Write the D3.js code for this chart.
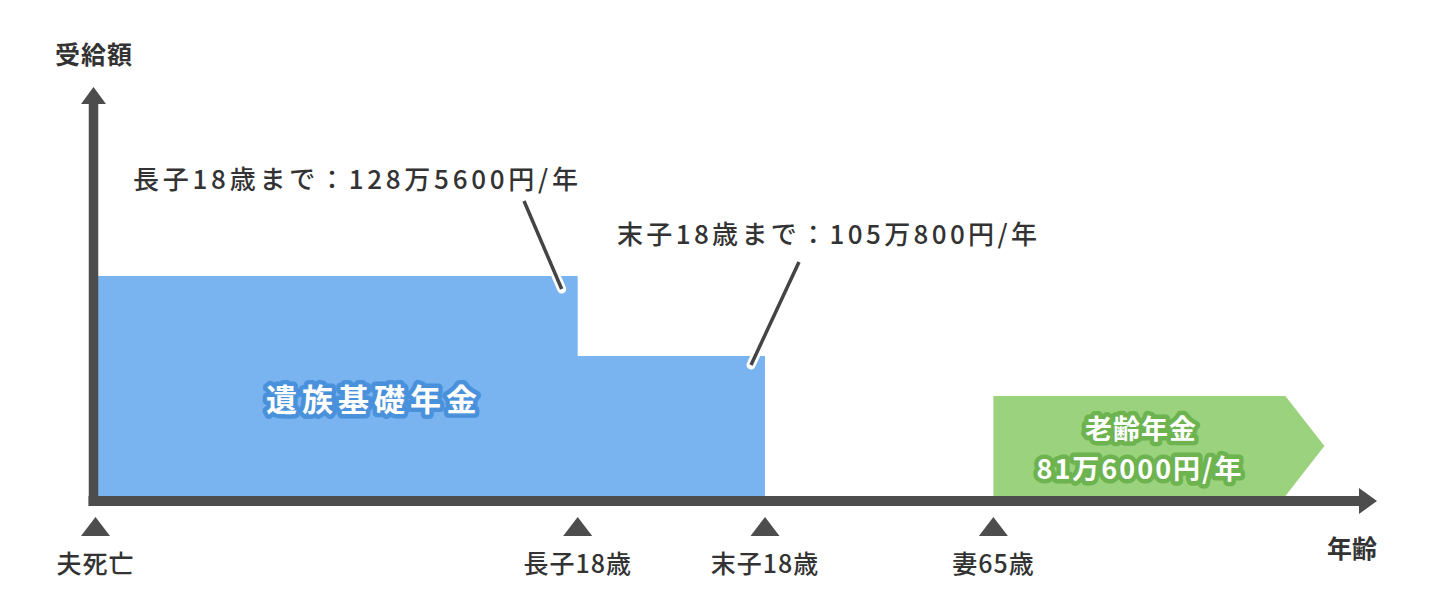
<!DOCTYPE html>
<html>
<head>
<meta charset="utf-8">
<script src="https://cdn.jsdelivr.net/npm/d3@7"></script>
<style>
  html, body { margin: 0; padding: 0; background: #fff; }
  svg { display: block; font-family: "Noto Sans CJK JP", "Noto Sans", sans-serif; }
</style>
</head>
<body>
<svg width="1456" height="614"></svg>
<script>

// timeline events (position along the age axis, 0..100 of the axis length)
var events = ["夫死亡", "長子18歳", "末子18歳", "妻65歳"],
    eventPos = [0, 37.7, 52.3, 70.1];

// survivor basic pension (万円/年) for each step
var survivorAmounts = [128.56, 105.08],
    survivorLabels = ["長子18歳まで：128万5600円/年", "末子18歳まで：105万800円/年"],
    survivorTitle = "遺族基礎年金";

// old age pension, starts at 妻65歳 and keeps going
var oldAgeAmount = 81.6,
    oldAgeEnd = 95.9,
    oldAgeLabel = ["老齢年金", "81万6000円/年"];

var axisTitles = {y: "受給額", x: "年齢"};

var svg = d3.select("svg"),
    ink = "#4d4d4d",
    textCol = "#333";

var x = d3.scaleLinear().domain([0, 100]).range([94, 1377]);
// schematic chart, amounts are not drawn to scale
var y = d3.scaleLinear().domain([0, oldAgeAmount, survivorAmounts[1], survivorAmounts[0]])
    .range([496, 396, 356, 276]);

// blue steps
var steps = [
  {t: eventPos[0], v: survivorAmounts[0]},
  {t: eventPos[1], v: survivorAmounts[1]},
  {t: eventPos[2], v: survivorAmounts[1]}
];
var area = d3.area()
    .x(function(d) { return x(d.t); })
    .y0(y(0))
    .y1(function(d) { return y(d.v); })
    .curve(d3.curveStepAfter);

svg.append("path")
  .datum(steps)
  .attr("d", area)
  .attr("fill", "#79b4f1");

// green arrow block
var gTop = y(oldAgeAmount), gBot = y(0), gMid = (gTop + gBot) / 2,
    tip = x(oldAgeEnd), notch = 39;
svg.append("path")
  .attr("d", d3.line()([
    [x(eventPos[3]), gTop], [tip - notch, gTop], [tip, gMid],
    [tip - notch, gBot], [x(eventPos[3]), gBot]
  ]) + "Z")
  .attr("fill", "#9bd27e");

// axes with arrow heads
var x0 = x(0) - 0.5, yBase = y(0) + 5;
svg.append("line")
  .attr("x1", x0).attr("x2", x0)
  .attr("y1", yBase + 5).attr("y2", 100)
  .attr("stroke", ink).attr("stroke-width", 9.5);
svg.append("path")
  .attr("d", d3.line()([[x0 - 12.5, 104], [x0, 87], [x0 + 12.5, 104]]) + "Z")
  .attr("fill", ink);

svg.append("line")
  .attr("x1", x0 - 5).attr("x2", 1362)
  .attr("y1", yBase).attr("y2", yBase)
  .attr("stroke", ink).attr("stroke-width", 10);
svg.append("path")
  .attr("d", d3.line()([[1359, yBase - 13], [x(100), yBase], [1359, yBase + 13]]) + "Z")
  .attr("fill", ink);

// event markers
var ev = svg.append("g").selectAll("g")
  .data(events)
  .enter().append("g")
  .attr("transform", function(d, i) { return "translate(" + (x(eventPos[i]) + (i == 0 ? 1.5 : 0)) + ",0)"; });

ev.append("path")
  .attr("d", d3.line()([[-14.5, 536], [0, 517], [14.5, 536]]) + "Z")
  .attr("fill", ink);

ev.append("text")
  .attr("y", 562)
  .attr("text-anchor", "middle")
  .attr("dominant-baseline", "central")
  .attr("fill", textCol)
  .style("font-size", "25px").style("font-weight", "500")
  .style("letter-spacing", "1px")
  .text(function(d) { return d; });

// axis titles
svg.append("text")
  .attr("x", 94).attr("y", 53)
  .attr("text-anchor", "middle")
  .attr("dominant-baseline", "central")
  .attr("fill", textCol)
  .style("font-size", "25px").style("font-weight", "bold")
  .style("letter-spacing", "1px")
  .text(axisTitles.y);

svg.append("text")
  .attr("x", 1352).attr("y", 547)
  .attr("text-anchor", "middle")
  .attr("dominant-baseline", "central")
  .attr("fill", textCol)
  .style("font-size", "25px").style("font-weight", "bold")
  .text(axisTitles.x);

// callouts for the two steps
var callouts = [
  {label: survivorLabels[0], tx: 133, ty: 177, w: 445,
   from: [524, 201], to: [x(eventPos[1]) - 16, y(survivorAmounts[0]) + 13]},
  {label: survivorLabels[1], tx: 617, ty: 232, w: 420,
   from: [799, 262], to: [x(eventPos[2]) - 14, y(survivorAmounts[1]) + 9]}
];

callouts.forEach(function(c) {
  svg.append("line")
    .attr("x1", c.from[0]).attr("y1", c.from[1])
    .attr("x2", c.to[0]).attr("y2", c.to[1])
    .attr("stroke", "#fff").attr("stroke-width", 9)
    .attr("stroke-linecap", "round");
  svg.append("line")
    .attr("x1", c.from[0]).attr("y1", c.from[1])
    .attr("x2", c.to[0]).attr("y2", c.to[1])
    .attr("stroke", "#444").attr("stroke-width", 3.5);
  svg.append("text")
    .attr("x", c.tx).attr("y", c.ty)
    .attr("dominant-baseline", "central")
    .attr("textLength", c.w)
    .attr("lengthAdjust", "spacing")
    .attr("fill", textCol)
    .style("font-size", "26px").style("font-weight", "500")
    .text(c.label);
});

// haloed titles inside the blocks
function halo(tx, ty, str, size, spacing, col) {
  svg.append("text")
    .attr("x", tx).attr("y", ty)
    .attr("text-anchor", "middle")
    .attr("dominant-baseline", "central")
    .attr("fill", "#fff")
    .attr("stroke", col).attr("stroke-width", 9)
    .attr("stroke-linejoin", "round")
    .attr("paint-order", "stroke")
    .style("font-size", size + "px").style("font-weight", "bold")
    .style("letter-spacing", spacing + "px")
    .text(str);
}

halo(374, 397, survivorTitle, 31, 5, "#4a91dc");
halo(1141, 427, oldAgeLabel[0], 27, 1, "#6db34f");
halo(1140, 467, oldAgeLabel[1], 27, 2, "#6db34f");

</script>
</body>
</html>
